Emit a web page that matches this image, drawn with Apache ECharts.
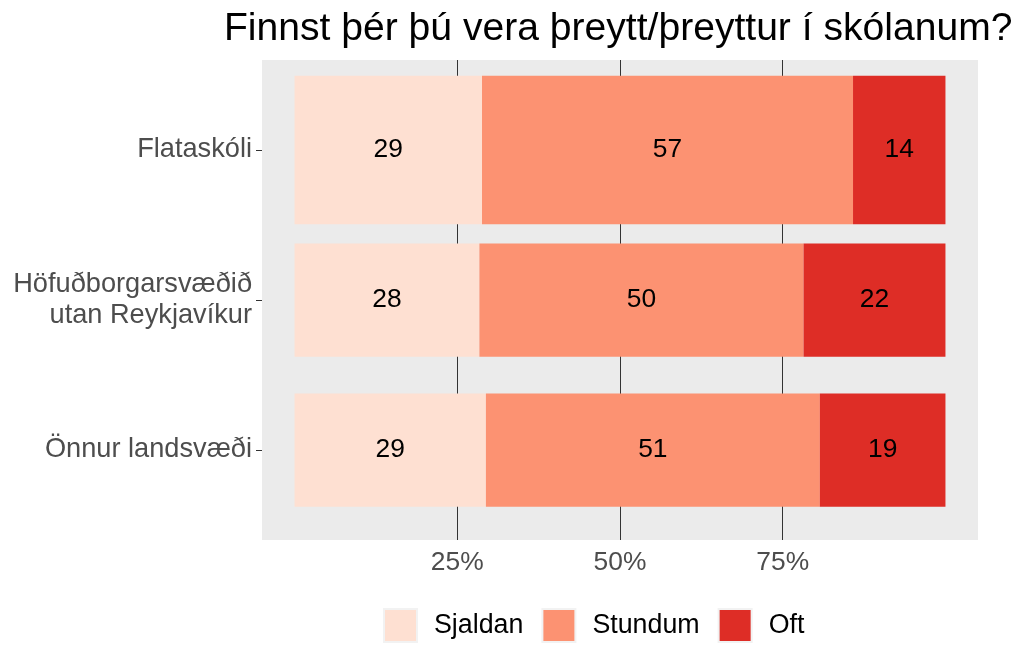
<!DOCTYPE html>
<html>
<head>
<meta charset="utf-8">
<script src="https://cdn.jsdelivr.net/npm/echarts@6/dist/echarts.min.js"></script>
<style>
  html, body { margin: 0; padding: 0; background: #fff; }
  #chart { width: 1019px; height: 645px; }
</style>
</head>
<body>
<div id="chart"></div>
<script>
// categories (top to bottom) and shares in percent
const categories = ["Flataskóli", "Höfuðborgarsvæðið\nutan Reykjavíkur", "Önnur landsvæði"];
const answerNames = ["Sjaldan", "Stundum", "Oft"];
const sjaldan = [28.8, 28.4, 29.4];
const stundum = [57.0, 49.8, 51.3];
const oft = [14.2, 21.8, 19.3];
const xTicks = [25, 50, 75];
const yTicks = [1, 2, 3];

// relative bar thickness per category (Flataskóli is drawn thicker)
const barShare = [0.99, 0.755, 0.755];
const colors = ["#FEE0D2", "#FC9272", "#DE2D26"];
const font = "Liberation Sans";

const shares = [sjaldan, stundum, oft];

// build [start, end, y, value] for each answer
function buildData(k) {
  return categories.map((c, i) => {
    let start = 0;
    for (let j = 0; j < k; j++) start += shares[j][i];
    return [start, start + shares[k][i], i + 1, shares[k][i]];
  });
}

function renderItem(params, api) {
  const y = api.value(2);
  const p0 = api.coord([api.value(0), y]);
  const p1 = api.coord([api.value(1), y]);
  const h = api.size([0, barShare[y - 1]])[1];
  return {
    type: "rect",
    shape: { x: p0[0], y: p0[1] - h / 2, width: p1[0] - p0[0], height: h },
    style: { fill: api.visual("color") },
    textContent: {
      style: {
        text: String(Math.round(api.value(3))),
        fill: "#000",
        fontFamily: font,
        fontSize: 26.4,
      },
    },
    textConfig: { position: "inside" },
  };
}

const chart = echarts.init(document.getElementById("chart"));
chart.setOption({
  animation: false,
  title: {
    text: "Finnst þér þú vera þreytt/þreyttur í skólanum?",
    left: 224,
    top: 10,
    padding: 0,
    textStyle: { fontFamily: font, fontSize: 39.1, fontWeight: "normal", color: "#000" },
  },
  grid: {
    left: 262,
    right: 41,
    top: 60,
    bottom: 105,
    show: true,
    backgroundColor: "#EBEBEB",
    borderWidth: 0,
  },
  legend: {
    data: answerNames,
    left: 383,
    top: 608,
    icon: "rect",
    itemWidth: 33,
    itemHeight: 33,
    itemGap: 18,
    padding: 0,
    itemStyle: { borderColor: "#F2F2F2", borderWidth: 2 },
    textStyle: { fontFamily: font, fontSize: 26.8, color: "#000", padding: [3, 0, 0, 12] },
  },
  xAxis: {
    type: "value",
    min: -5,
    max: 105,
    axisLine: { show: false, onZero: false },
    axisTick: { show: false, customValues: xTicks },
    axisLabel: {
      customValues: xTicks,
      formatter: (v) => v + "%",
      fontFamily: font,
      fontSize: 26.4,
      color: "#4D4D4D",
      margin: 10,
    },
    splitLine: { show: true, lineStyle: { color: "#333", width: 1 } },
  },
  yAxis: {
    type: "value",
    min: 0.4,
    max: 3.6,
    inverse: true,
    axisLine: { show: false, onZero: false },
    axisTick: { show: true, customValues: yTicks, length: 6, lineStyle: { color: "#333" } },
    axisLabel: {
      customValues: yTicks,
      formatter: (v) => categories[v - 1],
      fontFamily: font,
      fontSize: 27.2,
      lineHeight: 31,
      color: "#4D4D4D",
      align: "right",
      margin: 10,
    },
    splitLine: { show: false },
  },
  series: answerNames.map((name, k) => ({
    name: name,
    type: "custom",
    renderItem: renderItem,
    itemStyle: { color: colors[k] },
    encode: { x: [0, 1], y: 2 },
    data: buildData(k),
  })),
});
</script>
</body>
</html>
